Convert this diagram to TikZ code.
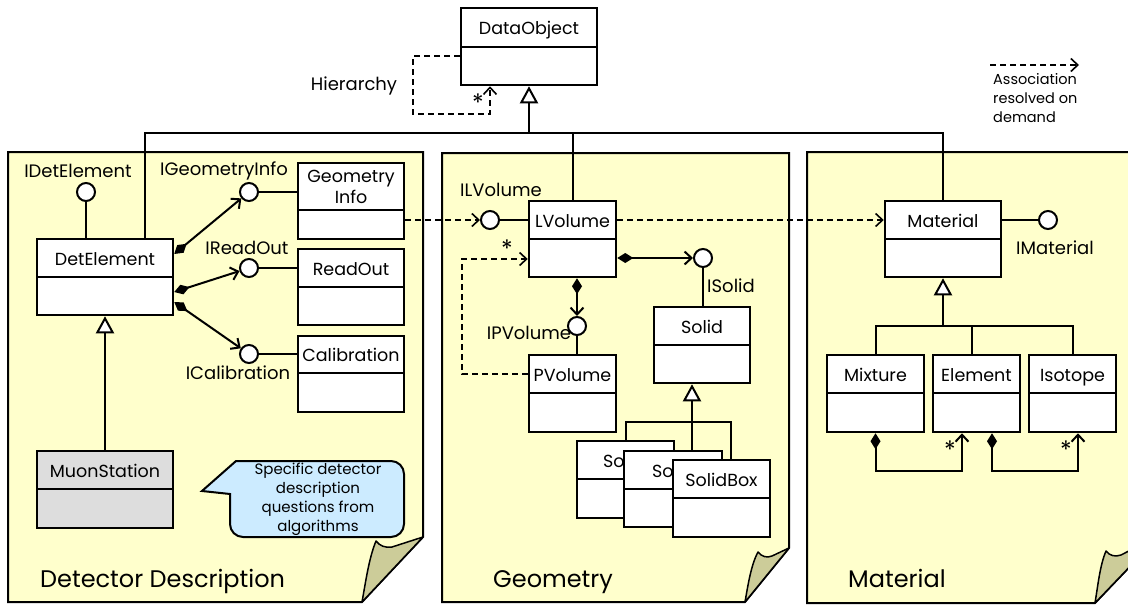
\documentclass[tikz,border=0pt]{standalone}
\usepackage{fontspec}
\setmainfont{Poppins}
\usetikzlibrary{arrows.meta}

\definecolor{pagefill}{HTML}{FFFFCC}
\definecolor{flapfill}{HTML}{CCCC99}
\definecolor{bubblefill}{HTML}{CCEBFF}
\definecolor{abstractfill}{HTML}{DDDDDD}

% box with a header compartment: fill, name, x1, y1, x2, y2, divider y
\newcommand\umlframe[7]{%
  \node[classbox, fill=#1, minimum width={#5-#3}, minimum height={#6-#4}] (#2) at ({(#3+#5)/2},{(#4+#6)/2}) {};
  \draw[classline] (#3,#7) -- (#5,#7);
}
% class with its name centred in the header
\newcommand\umlclass[8][white]{%
  \umlframe{#1}{#2}{#3}{#4}{#5}{#6}{#7}
  \node[classtext] (#2-name) at ({(#3+#5)/2},{(#4+#7)/2+7}) {#8};
}

\begin{document}
\begin{tikzpicture}[
  x=1pt, y=-1pt,
  page/.style={draw=black, line width=2pt, fill=pagefill, line join=miter},
  flap/.style={draw=black, line width=1.5pt, fill=flapfill, line join=round},
  classbox/.style={draw=black, line width=2.5pt, rectangle, inner sep=0pt},
  classline/.style={draw=black, line width=2.5pt},
  classtext/.style={font=\fontsize{17.5}{21}\selectfont, inner sep=0pt, anchor=base, align=center},
  lbl/.style={font=\fontsize{18}{19}\selectfont, inner sep=0pt},
  star/.style={font=\fontsize{24}{24}\selectfont, inner sep=0pt},
  pkgtitle/.style={font=\fontsize{24}{26}\selectfont, inner sep=0pt, anchor=base west},
  notetext/.style={font=\fontsize{15}{19}\selectfont, inner sep=0pt},
  legendtext/.style={font=\fontsize{14.5}{19}\selectfont, inner sep=0pt},
  lolly/.style={circle, draw=black, line width=2pt, fill=white, minimum size=18pt, inner sep=0pt},
  conn/.style={draw=black, line width=2pt},
  gen/.style={conn, -{Triangle[fill=white, length=17pt, width=18pt]}},
  comp/.style={conn, {Diamond[length=16pt, width=10pt]}-{Straight Barb[length=7pt, width=13pt]}},
  dep/.style={draw=black, line width=1.6pt, dash pattern=on 6pt off 4pt, -{Straight Barb[length=7pt, width=13pt]}},
  bubble/.style={draw=black, line width=2pt, fill=bubblefill},
]
\path[use as bounding box] (0,0) rectangle (1128,605);
\clip (0,0) rectangle (1128,605);

% ---------- packages (folded notes) ----------
\path[page] (8,152) -- (423,152) -- (423,537) -- (362,602) -- (8,602) -- cycle;
\path[flap] (362,602) .. controls (366,580) and (369,558) .. (376,541)
  .. controls (380,546) and (385,548) .. (392,547) -- (423,537) -- cycle;
\path[page] (442,153) -- (789,153) -- (789,548) -- (745,602) -- (442,602) -- cycle;
\path[flap] (745,602) .. controls (748,585) and (751,565) .. (758,552)
  .. controls (762,557) and (767,558) .. (772,556) -- (789,548) -- cycle;
\path[page] (807,152) -- (1160,152) -- (1160,535) -- (1095,603) -- (807,603) -- cycle;
\path[flap] (1095,603) .. controls (1098,585) and (1100,565) .. (1106,551)
  .. controls (1110,556) and (1115,557) .. (1121,555) -- (1160,535) -- cycle;

\node[pkgtitle] (pkgDD) at (40,587) {Detector Description};
\node[pkgtitle] (pkgGeo) at (493,587) {Geometry};
\node[pkgtitle] (pkgMat) at (848,587) {Material};

% ---------- classes ----------
\umlclass{DataObject}{461}{8}{597}{85}{47}{DataObject}
\umlclass{DetElement}{37}{239}{173}{315}{277}{DetElement}
\umlclass[abstractfill]{MuonStation}{37}{451}{173}{528}{489}{MuonStation}
\umlframe{white}{GeometryInfo}{298}{163}{404}{239}{210}
\node[classtext, anchor=center] (GeometryInfo-name) at (351,187) {Geometry\\Info};
\umlclass{ReadOut}{298}{249}{404}{325}{287}{ReadOut}
\umlclass{Calibration}{298}{336}{404}{412}{373}{Calibration}

\umlclass{LVolume}{529}{201}{616}{277}{239}{LVolume}
\umlclass{PVolume}{529}{355}{616}{432}{393}{PVolume}
\umlclass{Solid}{654}{307}{750}{383}{345}{Solid}
% stacked solid subclasses, the back ones partly hidden
\umlframe{white}{s1}{577}{441}{674}{518}{479}
\node[classtext, anchor=base west] (s1-name) at (603,467) {So};
\umlframe{white}{s2}{624}{451}{722}{527}{489}
\node[classtext, anchor=base west] (s2-name) at (652,477) {So};
\umlclass{s3}{673}{460}{770}{537}{498}{SolidBox}

\umlclass{Material}{885}{201}{1001}{277}{239}{Material}
\umlclass{Mixture}{827}{355}{924}{432}{393}{Mixture}
\umlclass{Element}{933}{355}{1020}{432}{393}{Element}
\umlclass{Isotope}{1029}{355}{1116}{432}{393}{Isotope}

% ---------- interfaces ----------
\node[lolly] (iDet) at (86,192) {};
\node[lolly] (iGeo) at (249,192) {};
\node[lolly] (iRead) at (249,268) {};
\node[lolly] (iCal) at (249,354) {};
\node[lolly] (iLV) at (490,220) {};
\node[lolly] (iPV) at (577,326) {};
\node[lolly] (iSolid) at (703,258) {};
\node[lolly] (iMat) at (1048,220) {};

\node[lbl] (lDet) at (78,171) {IDetElement};
\node[lbl] (lGeo) at (224,171) {IGeometryInfo};
\node[lbl] (lRead) at (247,248) {IReadOut};
\node[lbl] (lCal) at (238,373) {ICalibration};
\node[lbl] (lLV) at (501,190) {ILVolume};
\node[lbl] (lPV) at (529,333) {IPVolume};
\node[lbl] (lSolid) at (731,286) {ISolid};
\node[lbl] (lMat) at (1055,248) {IMaterial};
\node[lbl] (lHier) at (354,86) {Hierarchy};

\draw[conn] (iDet) -- (iDet |- DetElement.north);
\draw[conn] (iGeo) -- (iGeo -| GeometryInfo.west);
\draw[conn] (iRead) -- (iRead -| ReadOut.west);
\draw[conn] (iCal) -- (iCal -| Calibration.west);
\draw[conn] (iLV) -- (iLV -| LVolume.west);
\draw[conn] (iPV) -- (iPV |- PVolume.north);
\draw[conn] (iSolid) -- (iSolid |- Solid.north);
\draw[conn] (iMat) -- (iMat -| Material.east);

% ---------- inheritance ----------
\coordinate (busL) at (145,133);
\draw[conn] (busL |- DetElement.north) -- (busL) -- (busL -| Material.north) -- (Material.north);
\draw[conn] (LVolume.north) -- (LVolume.north |- busL);
\draw[gen] (DataObject.south |- busL) -- (DataObject.south);
\draw[gen] (MuonStation.north) -- (DetElement.south);

\coordinate (mBus) at (943,326);
\draw[conn] (Mixture.north) |- (Isotope.north |- mBus) -- (Isotope.north);
\draw[conn] (Element.north -| 972,0) -- (972,326);
\draw[gen] (mBus) -- (Material.south);

\coordinate (sBus) at (692,422);
\draw[conn] (s1.north -| 626,0) |- (sBus -| 731,0) -- (s3.north -| 731,0);
\draw[conn] (s2.north -| 692,0) -- (sBus);
\draw[gen] (sBus) -- (Solid.south -| sBus);

% ---------- compositions ----------
\draw[comp] (DetElement.east |- 0,254) -- (iGeo);
\draw[comp] (DetElement.east |- 0,292) -- (iRead);
\draw[comp] (DetElement.east |- 0,302) -- (iCal);
\draw[comp] (LVolume.south -| iPV) -- (iPV);
\draw[comp] (LVolume.east |- iSolid) -- (iSolid);
\draw[comp] (Mixture.south) -- ++(0,38) -| (Element.south -| 962,0);
\draw[comp] (Element.south -| 992,0) -- ++(0,38) -| (Isotope.south -| 1078,0);

\node[star] (st3) at (950,450) {*};
\node[star] (st4) at (1066,450) {*};

% ---------- associations resolved on demand ----------
\draw[dep] (DataObject.west |- 0,56) -| (413,114) -| (DataObject.south -| 490,0);
\node[star] (st1) at (478,103) {*};
\draw[dep] (GeometryInfo.east |- iLV) -- (iLV);
\draw[dep] (LVolume.east |- iLV) -- (Material.west |- iLV);
\draw[dep] (PVolume.west |- 0,374) -- (462,374) |- (LVolume.west |- 0,259);
\node[star] (st2) at (507,249) {*};

% ---------- note ----------
\path[bubble] (202,491) -- (236,461) [rounded corners=13pt] -- (404,461) -- (404,537) -- (230,537) [sharp corners] -- (230,494) -- cycle;
\node[notetext, align=center] (note) at (318,499) {Specific detector\\description\\questions from\\algorithms};

% ---------- legend ----------
\coordinate (legA) at (990,65);
\coordinate (legB) at (1079,65);
\draw[dep] (legA) -- (legB);
\node[legendtext, align=left, anchor=north west] (legT) at (993,73) {Association\\resolved on\\demand};
\end{tikzpicture}
\end{document}
